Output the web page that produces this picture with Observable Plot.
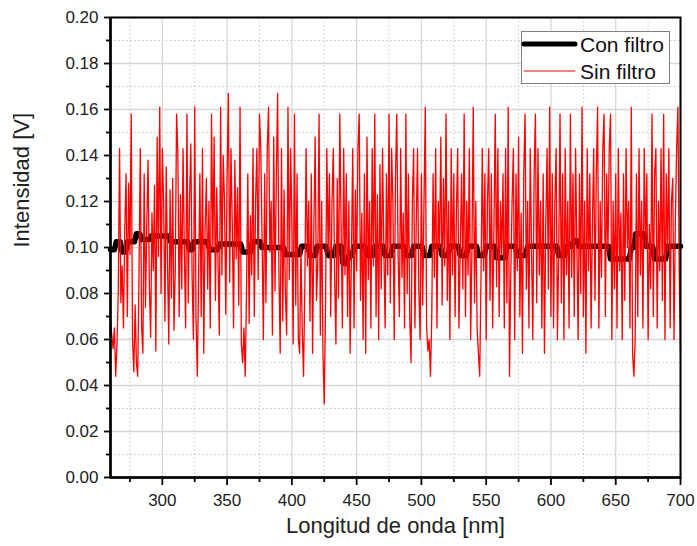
<!DOCTYPE html>
<html>
<head>
<meta charset="utf-8">
<script src="https://cdn.jsdelivr.net/npm/d3@7"></script>
<script src="https://cdn.jsdelivr.net/npm/@observablehq/plot@0.6"></script>
<style>
  html, body { margin: 0; padding: 0; background: #fff; }
  #wrap { position: relative; width: 697px; height: 546px; font-family: "Liberation Sans", Arial, sans-serif; }
  #legend { position: absolute; left: 521px; top: 31px; }
</style>
</head>
<body>
<div id="wrap"><div id="chart"></div><div id="legend"></div></div>
<script>
// ---- Data ----
const sinStart = 260; // nm, first wavelength of "Sin filtro" (1 nm step)
const sinFiltro = [
  0.067,0.062,0.056,0.065,0.044,0.058,0.081,0.143,0.076,0.092,
  0.065,0.108,0.132,0.070,0.128,0.097,0.158,0.060,0.046,0.075,
  0.050,0.044,0.088,0.143,0.066,0.054,0.132,0.074,0.110,0.138,
  0.083,0.061,0.115,0.090,0.127,0.055,0.148,0.096,0.161,0.080,
  0.143,0.120,0.068,0.135,0.093,0.058,0.125,0.078,0.130,0.064,
  0.090,0.158,0.141,0.070,0.123,0.082,0.143,0.098,0.065,0.158,
  0.076,0.120,0.145,0.087,0.060,0.161,0.070,0.044,0.087,0.132,
  0.070,0.143,0.054,0.108,0.130,0.082,0.120,0.065,0.158,0.099,
  0.148,0.077,0.126,0.093,0.062,0.161,0.088,0.140,0.120,0.071,
  0.132,0.167,0.085,0.143,0.110,0.065,0.138,0.095,0.126,0.075,
  0.161,0.058,0.050,0.065,0.044,0.081,0.132,0.067,0.114,0.088,
  0.143,0.070,0.120,0.143,0.086,0.158,0.143,0.104,0.060,0.132,
  0.076,0.143,0.161,0.098,0.120,0.062,0.148,0.081,0.130,0.167,
  0.090,0.054,0.143,0.068,0.125,0.080,0.062,0.161,0.086,0.143,
  0.112,0.058,0.158,0.075,0.132,0.060,0.054,0.100,0.065,0.044,
  0.083,0.143,0.092,0.120,0.068,0.132,0.054,0.110,0.148,0.077,
  0.093,0.158,0.062,0.120,0.054,0.032,0.075,0.143,0.098,0.132,
  0.070,0.120,0.143,0.087,0.058,0.130,0.078,0.158,0.110,0.065,
  0.143,0.088,0.132,0.070,0.120,0.054,0.098,0.143,0.065,0.125,
  0.090,0.143,0.158,0.077,0.115,0.060,0.132,0.054,0.148,0.086,
  0.120,0.065,0.143,0.092,0.158,0.070,0.123,0.060,0.136,0.082,
  0.143,0.100,0.065,0.132,0.088,0.158,0.076,0.143,0.120,0.060,
  0.132,0.158,0.097,0.070,0.143,0.087,0.115,0.065,0.158,0.080,
  0.132,0.070,0.050,0.120,0.143,0.065,0.110,0.143,0.082,0.060,
  0.132,0.075,0.120,0.161,0.066,0.055,0.060,0.044,0.070,0.132,
  0.087,0.143,0.065,0.120,0.100,0.148,0.075,0.130,0.092,0.158,
  0.077,0.120,0.060,0.143,0.088,0.132,0.070,0.115,0.143,0.065,
  0.100,0.132,0.082,0.158,0.070,0.120,0.088,0.143,0.060,0.098,
  0.161,0.076,0.120,0.065,0.054,0.044,0.087,0.143,0.090,0.132,
  0.060,0.120,0.143,0.077,0.132,0.065,0.110,0.158,0.083,0.143,
  0.070,0.120,0.097,0.132,0.065,0.143,0.076,0.161,0.044,0.088,
  0.120,0.143,0.060,0.132,0.090,0.148,0.070,0.115,0.054,0.132,
  0.158,0.082,0.120,0.065,0.143,0.100,0.060,0.132,0.158,0.076,
  0.143,0.088,0.120,0.065,0.132,0.054,0.110,0.143,0.082,0.161,
  0.070,0.132,0.065,0.120,0.143,0.060,0.098,0.158,0.076,0.132,
  0.060,0.143,0.088,0.120,0.065,0.158,0.087,0.132,0.070,0.143,
  0.100,0.060,0.132,0.080,0.161,0.070,0.120,0.054,0.143,0.090,
  0.132,0.065,0.110,0.143,0.077,0.132,0.161,0.065,0.120,0.087,
  0.143,0.158,0.070,0.132,0.098,0.143,0.158,0.060,0.120,0.082,
  0.132,0.065,0.143,0.090,0.115,0.060,0.132,0.077,0.143,0.100,
  0.120,0.065,0.161,0.054,0.044,0.060,0.132,0.070,0.143,0.088,
  0.120,0.065,0.143,0.100,0.132,0.060,0.110,0.082,0.158,0.070,
  0.132,0.143,0.065,0.120,0.090,0.143,0.077,0.158,0.060,0.132,
  0.098,0.143,0.065,0.120,0.130,0.060,0.110,0.143,0.161,0.090,
  0.055
];

const conX = [260,263,264.5,267.5,269,271.5,273,278.5,280,282.5,284,290,291.5,305,306.5,319.5,321,323,324.5,335,
  336.5,342.5,344,360.5,362,368,369.5,375.5,377,393.5,395,406,407.5,412.5,414,418,419.5,426.5,428,432.5,
  434,438,439.5,442.5,444,446.5,448,456.5,458,462.5,464,470.5,472,476.5,478,486.5,488,492.5,494,500.5,
  502,506.5,508,514.5,516,520.5,522,528.5,530,534.5,536,542.5,544,548.5,550,556.5,558,564.5,566,572.5,
  574,580.5,582,604.5,606,610.5,612,616,617.5,620,621.5,644.5,646,660.5,662,664,665.5,672,673.5,678.5,
  680,688.5,690,700];
const conY = [0.099,0.099,0.1025,0.1025,0.098,0.098,0.1025,0.1025,0.106,0.106,0.1035,0.1035,0.105,0.105,0.1025,0.1025,0.099,0.099,0.1025,0.1025,
  0.099,0.099,0.1015,0.1015,0.098,0.098,0.1025,0.1025,0.100,0.100,0.097,0.097,0.1005,0.1005,0.0965,0.0965,0.1005,0.1005,0.0965,0.0965,
  0.1005,0.1005,0.093,0.093,0.0965,0.0965,0.1005,0.1005,0.0965,0.0965,0.1005,0.1005,0.0965,0.0965,0.1005,0.1005,0.0965,0.0965,0.1005,0.1005,
  0.0965,0.0965,0.1005,0.1005,0.0965,0.0965,0.1005,0.1005,0.0965,0.0965,0.1005,0.1005,0.0965,0.0965,0.1005,0.1005,0.0955,0.0955,0.1005,0.1005,
  0.0965,0.0965,0.1005,0.1005,0.0965,0.0965,0.1005,0.1005,0.103,0.103,0.1005,0.1005,0.095,0.095,0.100,0.100,0.106,0.106,0.1005,0.1005,
  0.095,0.095,0.1005,0.1005];

const xMajorTicks = [300,350,400,450,500,550,600,650,700];
const xMinorTicks = [275,325,375,425,475,525,575,625,675];
const yMajorTicks = [0,0.02,0.04,0.06,0.08,0.10,0.12,0.14,0.16,0.18,0.20];
const yMinorTicks = [0.01,0.03,0.05,0.07,0.09,0.11,0.13,0.15,0.17,0.19];
const seriesNames = ["Con filtro","Sin filtro"];
const seriesColors = ["#000000","#ff0000"];
const xLabel = "Longitud de onda [nm]";
const yLabel = "Intensidad [V]";

// ---- Build tables ----
const sinData = sinFiltro.map((v,i)=>({x: sinStart + i, y: v}));
const conData = conX.map((x,i)=>({x, y: conY[i]}));

const chart = Plot.plot({
  width: 697, height: 546,
  marginLeft: 110, marginRight: 17, marginTop: 17, marginBottom: 69,
  style: {fontFamily: "'Liberation Sans', Arial, sans-serif", fontSize: "17px", color: "#222", background: "#fff"},
  x: {domain: [260, 700]},
  y: {domain: [0, 0.20]},
  marks: [
    Plot.gridX(xMinorTicks, {stroke: "#c8c8c8", strokeOpacity: 1, strokeWidth: 1, strokeDasharray: "1.5,2.5"}),
    Plot.gridY(yMinorTicks, {stroke: "#c8c8c8", strokeOpacity: 1, strokeWidth: 1, strokeDasharray: "1.5,2.5"}),
    Plot.gridX(xMajorTicks, {stroke: "#d6d6d6", strokeOpacity: 1, strokeWidth: 1.3}),
    Plot.gridY(yMajorTicks, {stroke: "#d6d6d6", strokeOpacity: 1, strokeWidth: 1.3}),
    Plot.line(conData, {x: "x", y: "y", stroke: seriesColors[0], strokeWidth: 5.5}),
    Plot.line(sinData, {x: "x", y: "y", stroke: seriesColors[1], strokeWidth: 1.3}),
    Plot.frame({stroke: "#000", strokeWidth: 2}),
    Plot.ruleX([260], {stroke: "#000", strokeWidth: 2.5}),
    Plot.ruleY([0], {stroke: "#000", strokeWidth: 2.5}),
    Plot.axisX(xMajorTicks, {tickSize: 8, tickPadding: 8, tickFormat: d => String(d), label: null, stroke: "#000", strokeWidth: 1.8, fill: "#222"}),
    Plot.axisX(xMinorTicks, {tickSize: 5, tickFormat: () => "", label: null, stroke: "#000", strokeWidth: 1.8}),
    Plot.axisY(yMajorTicks, {tickSize: 6, tickPadding: 6, tickFormat: d3.format(".2f"), label: null, stroke: "#000", strokeWidth: 1.8, fill: "#222"}),
    Plot.axisY(yMinorTicks, {tickSize: 4, tickFormat: () => "", label: null, stroke: "#000", strokeWidth: 1.8}),
    Plot.text([xLabel], {frameAnchor: "bottom", dy: 55, fontSize: 22, fill: "#222"}),
    Plot.text([yLabel], {frameAnchor: "left", rotate: -90, dx: -89, fontSize: 22, fill: "#222"})
  ]
});
document.getElementById("chart").appendChild(chart);

// ---- Legend (inside plot, top-right) ----
const lg = d3.select("#legend").append("svg").attr("width", 149).attr("height", 53)
  .style("font-family", "'Liberation Sans', Arial, sans-serif");
lg.append("rect").attr("x", 0.5).attr("y", 0.5).attr("width", 148).attr("height", 52)
  .attr("fill", "#fff").attr("stroke", "#808080").attr("stroke-width", 1);
const rows = [{name: seriesNames[0], color: seriesColors[0], w: 5, y: 13},
              {name: seriesNames[1], color: seriesColors[1], w: 1, y: 40}];
rows.forEach(r => {
  lg.append("line").attr("x1", 3).attr("x2", 54).attr("y1", r.y).attr("y2", r.y)
    .attr("stroke", r.color).attr("stroke-width", r.w).attr("stroke-linecap", "round");
  lg.append("text").attr("x", 59).attr("y", r.y).attr("dy", "0.36em")
    .attr("font-size", 21).attr("fill", "#111").text(r.name);
});
</script>
</body>
</html>
